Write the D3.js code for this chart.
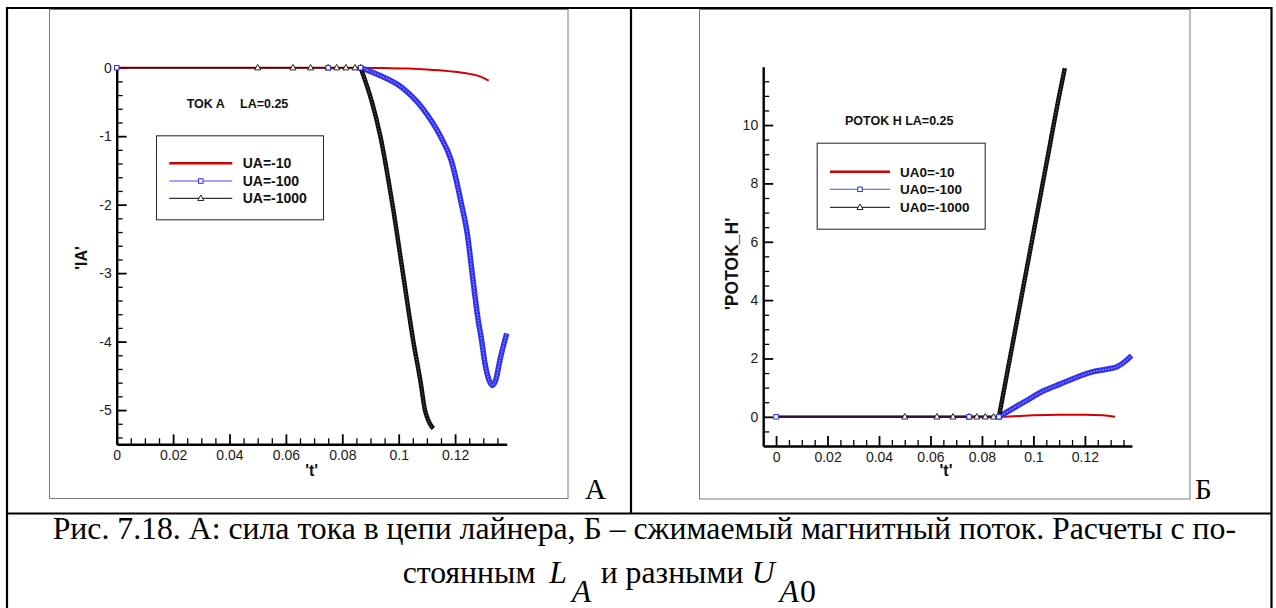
<!DOCTYPE html>
<html lang="ru">
<head>
    <meta charset="UTF-8">
    <title>Рис. 7.18</title>
    <script src="https://cdn.jsdelivr.net/npm/d3@7"></script>
    <style>
        body { margin: 0; background: #fff; }
        svg { display: block; font-family: "Liberation Sans", Arial, sans-serif; }
        .axis-title { font-size: 16px; font-weight: bold; fill: #111; }
        .legend-text { font-size: 14px; font-weight: bold; fill: #111; }
        .plot-title { font-size: 12.5px; font-weight: bold; fill: #111; }
        text.serif { font-family: "Liberation Serif", "Times New Roman", "DejaVu Serif", serif; fill: #000; }
    </style>
</head>
<body>
<svg id="fig" width="1276" height="608"></svg>
<script>
// ---------- данные ----------
const namesA = ["UA=-10", "UA=-100", "UA=-1000"];
const namesB = ["UA0=-10", "UA0=-100", "UA0=-1000"];

// панель А: 'IA'(t)
const iaU10 = [[0,0],[0.05,0],[0.075,0],[0.0865,0],[0.095,-0.005],[0.1033,-0.012],[0.11,-0.025],
    [0.1178,-0.05],[0.1251,-0.09],[0.129,-0.13],[0.1319,-0.19]];
const iaU100 = [[0,0],[0.075,0],[0.0865,0],[0.0932,-0.11],[0.1012,-0.29],[0.1084,-0.59],[0.1149,-1.01],
    [0.1186,-1.35],[0.1222,-1.98],[0.1243,-2.42],[0.1265,-3.15],[0.1282,-3.69],[0.1294,-3.98],
    [0.1306,-4.32],[0.1321,-4.57],[0.1332,-4.64],[0.1345,-4.55],[0.1359,-4.27],[0.1383,-3.88]];
const iaU1000 = [[0,0],[0.05,0],[0.0625,0],[0.06875,0],[0.075,0],[0.078,0],[0.0813,0],[0.0845,0],[0.0865,0],
    [0.0905,-0.5],[0.0935,-1.0],[0.0978,-2.0],[0.1015,-3.0],[0.1052,-4.0],[0.1078,-4.6],[0.1093,-5.0],
    [0.1105,-5.15],[0.1115,-5.23],[0.1123,-5.27]];

// панель Б: 'POTOK_H'(t)
const phU10 = [[0,0],[0.05,0],[0.075,0],[0.0866,0],[0.095,0.03],[0.1,0.05],[0.11,0.07],[0.12,0.07],
    [0.127,0.05],[0.1317,0]];
const phU100 = [[0,0],[0.075,0],[0.0866,0],[0.0966,0.52],[0.1042,0.9],[0.1103,1.12],[0.1175,1.38],
    [0.1232,1.55],[0.1284,1.63],[0.1323,1.71],[0.1362,1.94],[0.1381,2.1]];
const phU1000 = [[0,0],[0.05,0],[0.0625,0],[0.06875,0],[0.075,0],[0.078,0],[0.0813,0],[0.0845,0],[0.0866,0],
    [0.09,1.6],[0.095,3.95],[0.1,6.3],[0.105,8.65],[0.11,11.0],[0.1122,11.95]];

const tTicks = [0, 0.02, 0.04, 0.06, 0.08, 0.1, 0.12];
const tTickLabels = ["0", "0.02", "0.04", "0.06", "0.08", "0.1", "0.12"];
const iaTicks = [0, -1, -2, -3, -4, -5];
const iaTickLabels = ["0", "-1", "-2", "-3", "-4", "-5"];
const phTicks = [0, 2, 4, 6, 8, 10];
const phTickLabels = ["0", "2", "4", "6", "8", "10"];

const captionLine1 = "Рис. 7.18. А: сила тока в цепи лайнера, Б – сжимаемый магнитный поток. Расчеты с по-";

// ---------- оформление ----------
const svg = d3.select("#fig");
const colors = ["#d40000", "#3030f4", "#111111"];
const tOnset = 0.0866;   // до этого момента кривые лежат на нуле

// рамка таблицы
const frame = svg.append("g").attr("stroke", "#000").attr("stroke-width", 2.2).attr("fill", "none");
frame.append("path").attr("d", "M7,620 V8 H1271.5 V620");
frame.append("line").attr("x1", 631).attr("x2", 631).attr("y1", 8).attr("y2", 513.5);
frame.append("line").attr("x1", 7).attr("x2", 1271.5).attr("y1", 513.5).attr("y2", 513.5);

function triangle(sel, s) {
    return sel.append("path").attr("d", `M0,${-s * 0.6}L${s * 0.55},${s * 0.4}L${-s * 0.55},${s * 0.4}Z`)
        .attr("fill", "#fff").attr("stroke", "#111").attr("stroke-width", 0.9);
}
function square(sel, s) {
    return sel.append("rect").attr("x", -s / 2).attr("y", -s / 2).attr("width", s).attr("height", s)
        .attr("fill", "#fff").attr("stroke", "#2a2af0").attr("stroke-width", 1);
}

function drawPanel(o) {
    const g = svg.append("g");
    g.append("rect").attr("x", o.box[0]).attr("y", o.box[1]).attr("width", o.box[2]).attr("height", o.box[3])
        .attr("fill", "none").attr("stroke", "#7a7a7a").attr("stroke-width", 1);

    const x = d3.scaleLinear().domain(o.xDomain).range(o.xRange);
    const y = d3.scaleLinear().domain(o.yDomain).range(o.yRange);
    const yBase = o.yRange[0], xBase = o.xRange[0];

    // мелкие деления
    const near = (arr, v) => arr.some(a => Math.abs(a - v) < 1e-9);
    const xMinor = d3.range(o.xMinorFrom, o.xDomain[1], 0.005).filter(v => !near(tTicks, v));
    const yMinor = d3.range(o.yMinorFrom, o.yMinorTo, o.yMinorStep).filter(v => !near(o.yTicks, v));

    g.append("g").attr("transform", `translate(0,${yBase})`)
        .call(d3.axisBottom(x).tickValues(xMinor).tickSize(-6).tickFormat(""))
        .call(s => s.select(".domain").remove())
        .selectAll("line").attr("stroke-width", 1.3);
    g.append("g").attr("transform", `translate(${xBase},0)`)
        .call(d3.axisLeft(y).tickValues(yMinor).tickSize(-6).tickFormat(""))
        .call(s => s.select(".domain").remove())
        .selectAll("line").attr("stroke-width", 1.3);

    const xAxis = g.append("g").attr("transform", `translate(0,${yBase})`)
        .call(d3.axisBottom(x).tickValues(tTicks).tickSize(-10).tickSizeOuter(0).tickPadding(6)
            .tickFormat((d, i) => tTickLabels[i]));
    const yAxis = g.append("g").attr("transform", `translate(${xBase},0)`)
        .call(d3.axisLeft(y).tickValues(o.yTicks).tickSize(-10).tickSizeOuter(0).tickPadding(5)
            .tickFormat((d, i) => o.yTickLabels[i]));
    [xAxis, yAxis].forEach(a => {
        a.attr("font-size", 14).attr("font-family", "'Liberation Sans', Arial, sans-serif");
        a.select(".domain").attr("stroke-width", 2.4);
        a.selectAll(".tick line").attr("stroke-width", 1.8);
        a.selectAll(".tick text").style("font-size", "14px").attr("fill", "#1a1a1a");
    });

    // подписи осей
    g.append("text").attr("class", "axis-title").attr("x", o.xTitle[0]).attr("y", o.xTitle[1])
        .attr("text-anchor", "middle").text("'t'");
    g.append("text").attr("class", "axis-title")
        .attr("transform", `translate(${o.yTitle[0]},${o.yTitle[1]}) rotate(-90)`)
        .attr("text-anchor", "middle").style("font-size", o.yTitleSize + "px").text(o.yTitleText);

    // заголовок внутри графика
    o.title.forEach(t => g.append("text").attr("class", "plot-title").attr("x", t[0]).attr("y", t[1]).text(t[2]));

    // кривые
    const line = d3.line().x(d => x(d[0])).y(d => y(d[1])).curve(d3.curveMonotoneX);
    const flat = s => s.filter(d => d[0] <= tOnset + 1e-6);
    const rise = s => s.filter(d => d[0] >= tOnset - 1e-3);

    // красная: сплошная линия
    g.append("path").attr("d", line(o.series[0])).attr("fill", "none")
        .attr("stroke", colors[0]).attr("stroke-width", 2);
    // синяя: тонкая линия на нуле + плотная полоса маркеров
    g.append("path").attr("d", line(flat(o.series[1]))).attr("fill", "none")
        .attr("stroke", colors[1]).attr("stroke-width", 1);
    g.append("path").attr("d", line(rise(o.series[1]))).attr("fill", "none")
        .attr("stroke", colors[1]).attr("stroke-width", 5.5).attr("stroke-linejoin", "round");
    g.append("path").attr("d", line(rise(o.series[1]))).attr("fill", "none")
        .attr("stroke", "#8f8fff").attr("stroke-width", 1.4).attr("stroke-dasharray", "1.5 1.5");
    // чёрная
    g.append("path").attr("d", line(flat(o.series[2]))).attr("fill", "none")
        .attr("stroke", o.flatColor).attr("stroke-width", o.flatWidth);
    g.append("path").attr("d", line(rise(o.series[2]))).attr("fill", "none")
        .attr("stroke", colors[2]).attr("stroke-width", 4.5).attr("stroke-linejoin", "round");
    g.append("path").attr("d", line(rise(o.series[2]))).attr("fill", "none")
        .attr("stroke", "#777").attr("stroke-width", 1).attr("stroke-dasharray", "1 2");

    // маркеры на начальном участке
    g.selectAll(".tri").data(flat(o.series[2]).filter(d => d[0] > 0)).enter().append("g")
        .attr("transform", d => `translate(${x(d[0])},${y(d[1])})`)
        .each(function () { triangle(d3.select(this), 5.5); });
    g.selectAll(".sq").data(flat(o.series[1])).enter().append("g")
        .attr("transform", d => `translate(${x(d[0])},${y(d[1])})`)
        .each(function () { square(d3.select(this), 4.5); });

    // легенда
    const L = o.legend;
    g.append("rect").attr("x", L.box[0] + 0.5).attr("y", L.box[1] + 0.5).attr("width", L.box[2]).attr("height", L.box[3])
        .attr("fill", "#fff").attr("stroke", "#333").attr("stroke-width", 1.1);
    const styles = [
        {c: "#d00000", w: 2.6},
        {c: "#4a4aff", w: 1.1},
        {c: "#333", w: 1.3}
    ];
    const rows = g.selectAll(".legend").data(o.names).enter().append("g")
        .attr("class", "legend")
        .attr("transform", (d, i) => `translate(0,${L.rows[i]})`);
    rows.append("line").attr("x1", L.line[0]).attr("x2", L.line[1])
        .attr("stroke", (d, i) => styles[i].c).attr("stroke-width", (d, i) => styles[i].w);
    const mid = (L.line[0] + L.line[1]) / 2;
    rows.filter((d, i) => i === 1).append("g").attr("transform", `translate(${mid},0)`)
        .each(function () { square(d3.select(this), 4.5); });
    rows.filter((d, i) => i === 2).append("g").attr("transform", `translate(${mid},0)`)
        .each(function () { triangle(d3.select(this), 5.5); });
    rows.append("text").attr("class", "legend-text").attr("x", L.text).attr("dy", "0.36em")
        .style("font-size", L.size + "px").text(d => d);

    // буква панели
    svg.append("text").attr("class", "serif").attr("x", o.letter[0]).attr("y", o.letter[1])
        .style("font-size", "29px").text(o.letter[2]);
}

drawPanel({
    box: [49.5, 9.5, 518.5, 489],
    xDomain: [0, 0.1383], xRange: [116.7, 506.7],
    yDomain: [-5.5, 0], yRange: [444.3, 67.7],
    xMinorFrom: 0.005,
    yTicks: iaTicks, yTickLabels: iaTickLabels,
    yMinorFrom: -5.4, yMinorTo: 0, yMinorStep: 0.2,
    xTitle: [311.7, 476], yTitle: [86.5, 258], yTitleText: "'IA'", yTitleSize: 16,
    title: [[186.7, 108.3, "TOK A"], [240, 108.3, "LA=0.25"]],
    series: [iaU10, iaU100, iaU1000],
    flatColor: "#1a1a1a", flatWidth: 1.6,
    names: namesA,
    legend: {box: [156, 135.3, 167, 84], line: [169.3, 232.3], rows: [163.3, 181, 198.3], text: 242.7, size: 14},
    letter: [585, 498.5, "А"]
});

drawPanel({
    box: [699.5, 9.5, 490.5, 489.5],
    xDomain: [-0.005, 0.1383], xRange: [763.2, 1132],
    yDomain: [-1, 12], yRange: [446, 66.7],
    xMinorFrom: -0.005,
    yTicks: phTicks, yTickLabels: phTickLabels,
    yMinorFrom: -0.5, yMinorTo: 12, yMinorStep: 0.5,
    xTitle: [946, 476], yTitle: [738, 264], yTitleText: "'POTOK_H'", yTitleSize: 17.5,
    title: [[845, 125, "POTOK H LA=0.25"]],
    series: [phU10, phU100, phU1000],
    flatColor: "#3a1040", flatWidth: 2.4,
    names: namesB,
    legend: {box: [816.7, 142.7, 168, 86], line: [830, 890], rows: [171.7, 189.3, 207.3], text: 900, size: 13.5},
    letter: [1195, 499, "Б"]
});

// ---------- подпись к рисунку ----------
const cap = svg.append("g");
const l1 = cap.append("text").attr("class", "serif").attr("x", 52.7).attr("y", 539)
    .style("font-size", "30px").text(captionLine1);
const w1 = l1.node().getComputedTextLength();
const fs = 30 * (1236 - 52.7) / w1;
l1.style("font-size", fs + "px");

const line2 = [
    {t: "стоянным", x: 402.7, y: 583.3, it: false},
    {t: "L", x: 549.3, y: 583.3, it: true},
    {t: "A", x: 571.7, y: 601.7, it: true},
    {t: "и разными", x: 600.7, y: 583.3, it: false},
    {t: "U", x: 751.7, y: 583.3, it: true},
    {t: "A", x: 779.5, y: 601.7, it: true},
    {t: "0", x: 800, y: 601.7, it: false}
];
cap.selectAll(".l2").data(line2).enter().append("text")
    .attr("class", "serif")
    .attr("x", d => d.x).attr("y", d => d.y)
    .style("font-size", fs + "px")
    .style("font-style", d => d.it ? "italic" : "normal")
    .text(d => d.t);
</script>
</body>
</html>
